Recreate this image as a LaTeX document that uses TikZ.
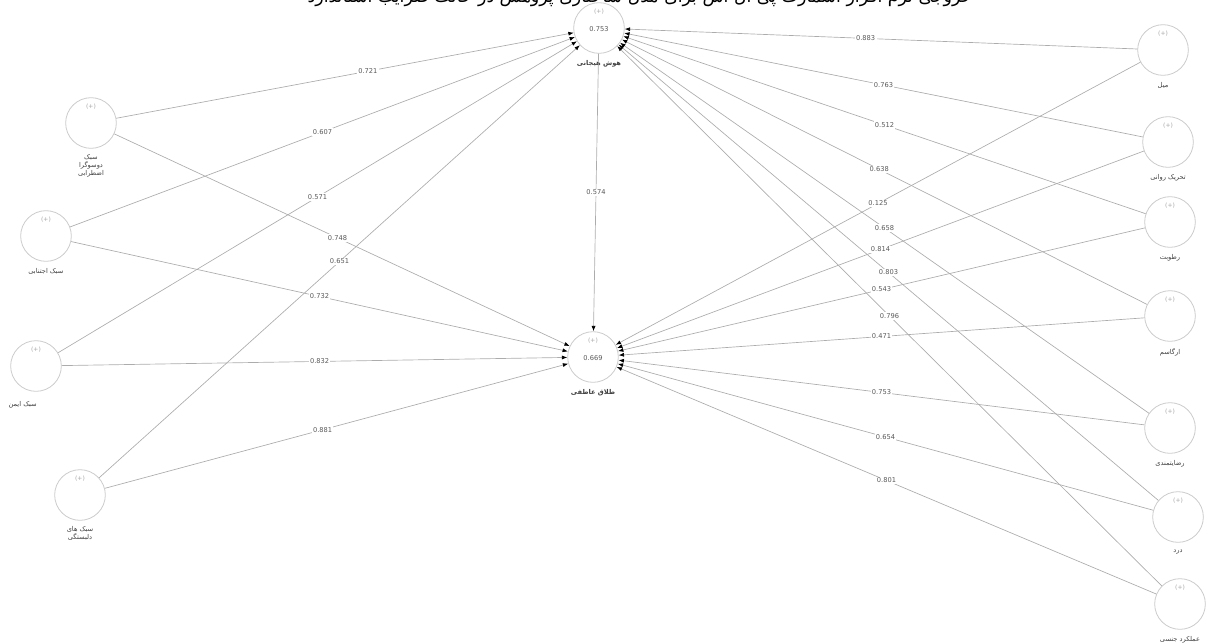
\documentclass[tikz,border=0pt]{standalone}
\usepackage{fontspec}
\setmainfont{DejaVu Sans}
\newfontfamily\fa[Script=Arabic]{DejaVu Sans}
\TeXXeTstate=1
\newcommand{\fat}[1]{{\fa\beginR #1\endR}}
\usetikzlibrary{arrows.meta,positioning}

\begin{document}
\begin{tikzpicture}[x=0.75pt,y=-0.75pt,
  lv/.style={circle,draw=gray!40,fill=white,minimum size=38pt,inner sep=0pt,line width=0.6pt},
  plus/.style={font=\fontsize{4.5}{5}\selectfont,text=gray!70},
  val/.style={fill=white,inner sep=1pt,font=\fontsize{5}{6}\selectfont,text=gray!70!black},
  lab/.style={font=\fontsize{5}{6}\selectfont,text=black!75,align=center,inner sep=1pt},
  path/.style={draw=gray!65,line width=0.5pt,-{Latex[length=4pt,width=3pt,black]}}]

\useasboundingbox (0,0) rectangle (1212,643);

% header line, cut at the top edge
\node[font=\fontsize{13}{15}\selectfont,anchor=base] (title) at (640,2)
  {\fat{خروجی نرم افزار اسمارت پی ال اس برای مدل ساختاری پژوهش در حالت ضرایب استاندارد}};

% latent variables
\node[lv] (hoosh) at (599,28) {};
\node[lv] (talagh) at (593,357) {};

% left side
\node[lv] (dosu) at (91,123) {};
\node[lv] (ejtenab) at (46,236) {};
\node[lv] (imen) at (36,366) {};
\node[lv] (delbas) at (80,495) {};

% right side
\node[lv] (meil) at (1163,50) {};
\node[lv] (tahrik) at (1168,142) {};
\node[lv] (rotubat) at (1170,222) {};
\node[lv] (orgasm) at (1170,316) {};
\node[lv] (rezayat) at (1170,428) {};
\node[lv] (dard) at (1178,517) {};
\node[lv] (amalkard) at (1180,604) {};

% (+) marks
\foreach \n in {hoosh,talagh,dosu,ejtenab,imen,delbas,meil,tahrik,rotubat,orgasm,rezayat,dard,amalkard}
  \node[plus] at ([yshift=-7pt]\n.north) {(+)};
\node[val] at ([yshift=-1pt]hoosh.center) {0.753};
\node[val] at ([yshift=-1pt]talagh.center) {0.669};

% names
\node[lab,below=4pt of hoosh,font=\fontsize{5}{6}\bfseries] {\fat{هوش هیجانی}};
\node[lab,below=4pt of talagh,font=\fontsize{5}{6}\bfseries] {\fat{طلاق عاطفی}};
\node[lab,below=3pt of dosu] {\fat{سبک}\\\fat{دوسوگرا}\\\fat{اضطرابی}};
\node[lab,below=4pt of ejtenab] {\fat{سبک اجتنابی}};
\node[lab,below=6pt of imen,xshift=-10pt] {\fat{سبک ایمن}};
\node[lab,below=3pt of delbas] {\fat{سبک های}\\\fat{دلبستگی}};
\node[lab,below=4pt of meil] {\fat{میل}};
\node[lab,below=4pt of tahrik] {\fat{تحریک روانی}};
\node[lab,below=4pt of rotubat] {\fat{رطوبت}};
\node[lab,below=4pt of orgasm] {\fat{ارگاسم}};
\node[lab,below=4pt of rezayat] {\fat{رضایتمندی}};
\node[lab,below=4pt of dard] {\fat{درد}};
\node[lab,below=4pt of amalkard] {\fat{عملکرد جنسی}};

% left paths
\draw[path] (dosu) -- node[val,pos=.55]{0.721} (hoosh);
\draw[path] (ejtenab) -- node[val]{0.607} (hoosh);
\draw[path] (imen) -- node[val]{0.571} (hoosh);
\draw[path] (delbas) -- node[val,pos=.5]{0.651} (hoosh);
\draw[path] (dosu) -- node[val,pos=.49]{0.748} (talagh);
\draw[path] (ejtenab) -- node[val]{0.732} (talagh);
\draw[path] (imen) -- node[val,pos=.51]{0.832} (talagh);
\draw[path] (delbas) -- node[val,pos=.47]{0.881} (talagh);

% middle path
\draw[path] (hoosh) -- node[val]{0.574} (talagh);

% right paths
\draw[path] (meil) -- node[val,pos=.53]{0.883} (hoosh);
\draw[path] (tahrik) -- node[val]{0.763} (hoosh);
\draw[path] (rotubat) -- node[val]{0.512} (hoosh);
\draw[path] (orgasm) -- node[val,pos=.51]{0.638} (hoosh);
\draw[path] (rezayat) -- node[val]{0.658} (hoosh);
\draw[path] (dard) -- node[val]{0.803} (hoosh);
\draw[path] (amalkard) -- node[val]{0.796} (hoosh);
\draw[path] (meil) -- node[val]{0.125} (talagh);
\draw[path] (tahrik) -- node[val]{0.814} (talagh);
\draw[path] (rotubat) -- node[val]{0.543} (talagh);
\draw[path] (orgasm) -- node[val]{0.471} (talagh);
\draw[path] (rezayat) -- node[val]{0.753} (talagh);
\draw[path] (dard) -- node[val]{0.654} (talagh);
\draw[path] (amalkard) -- node[val]{0.801} (talagh);
\end{tikzpicture}
\end{document}
